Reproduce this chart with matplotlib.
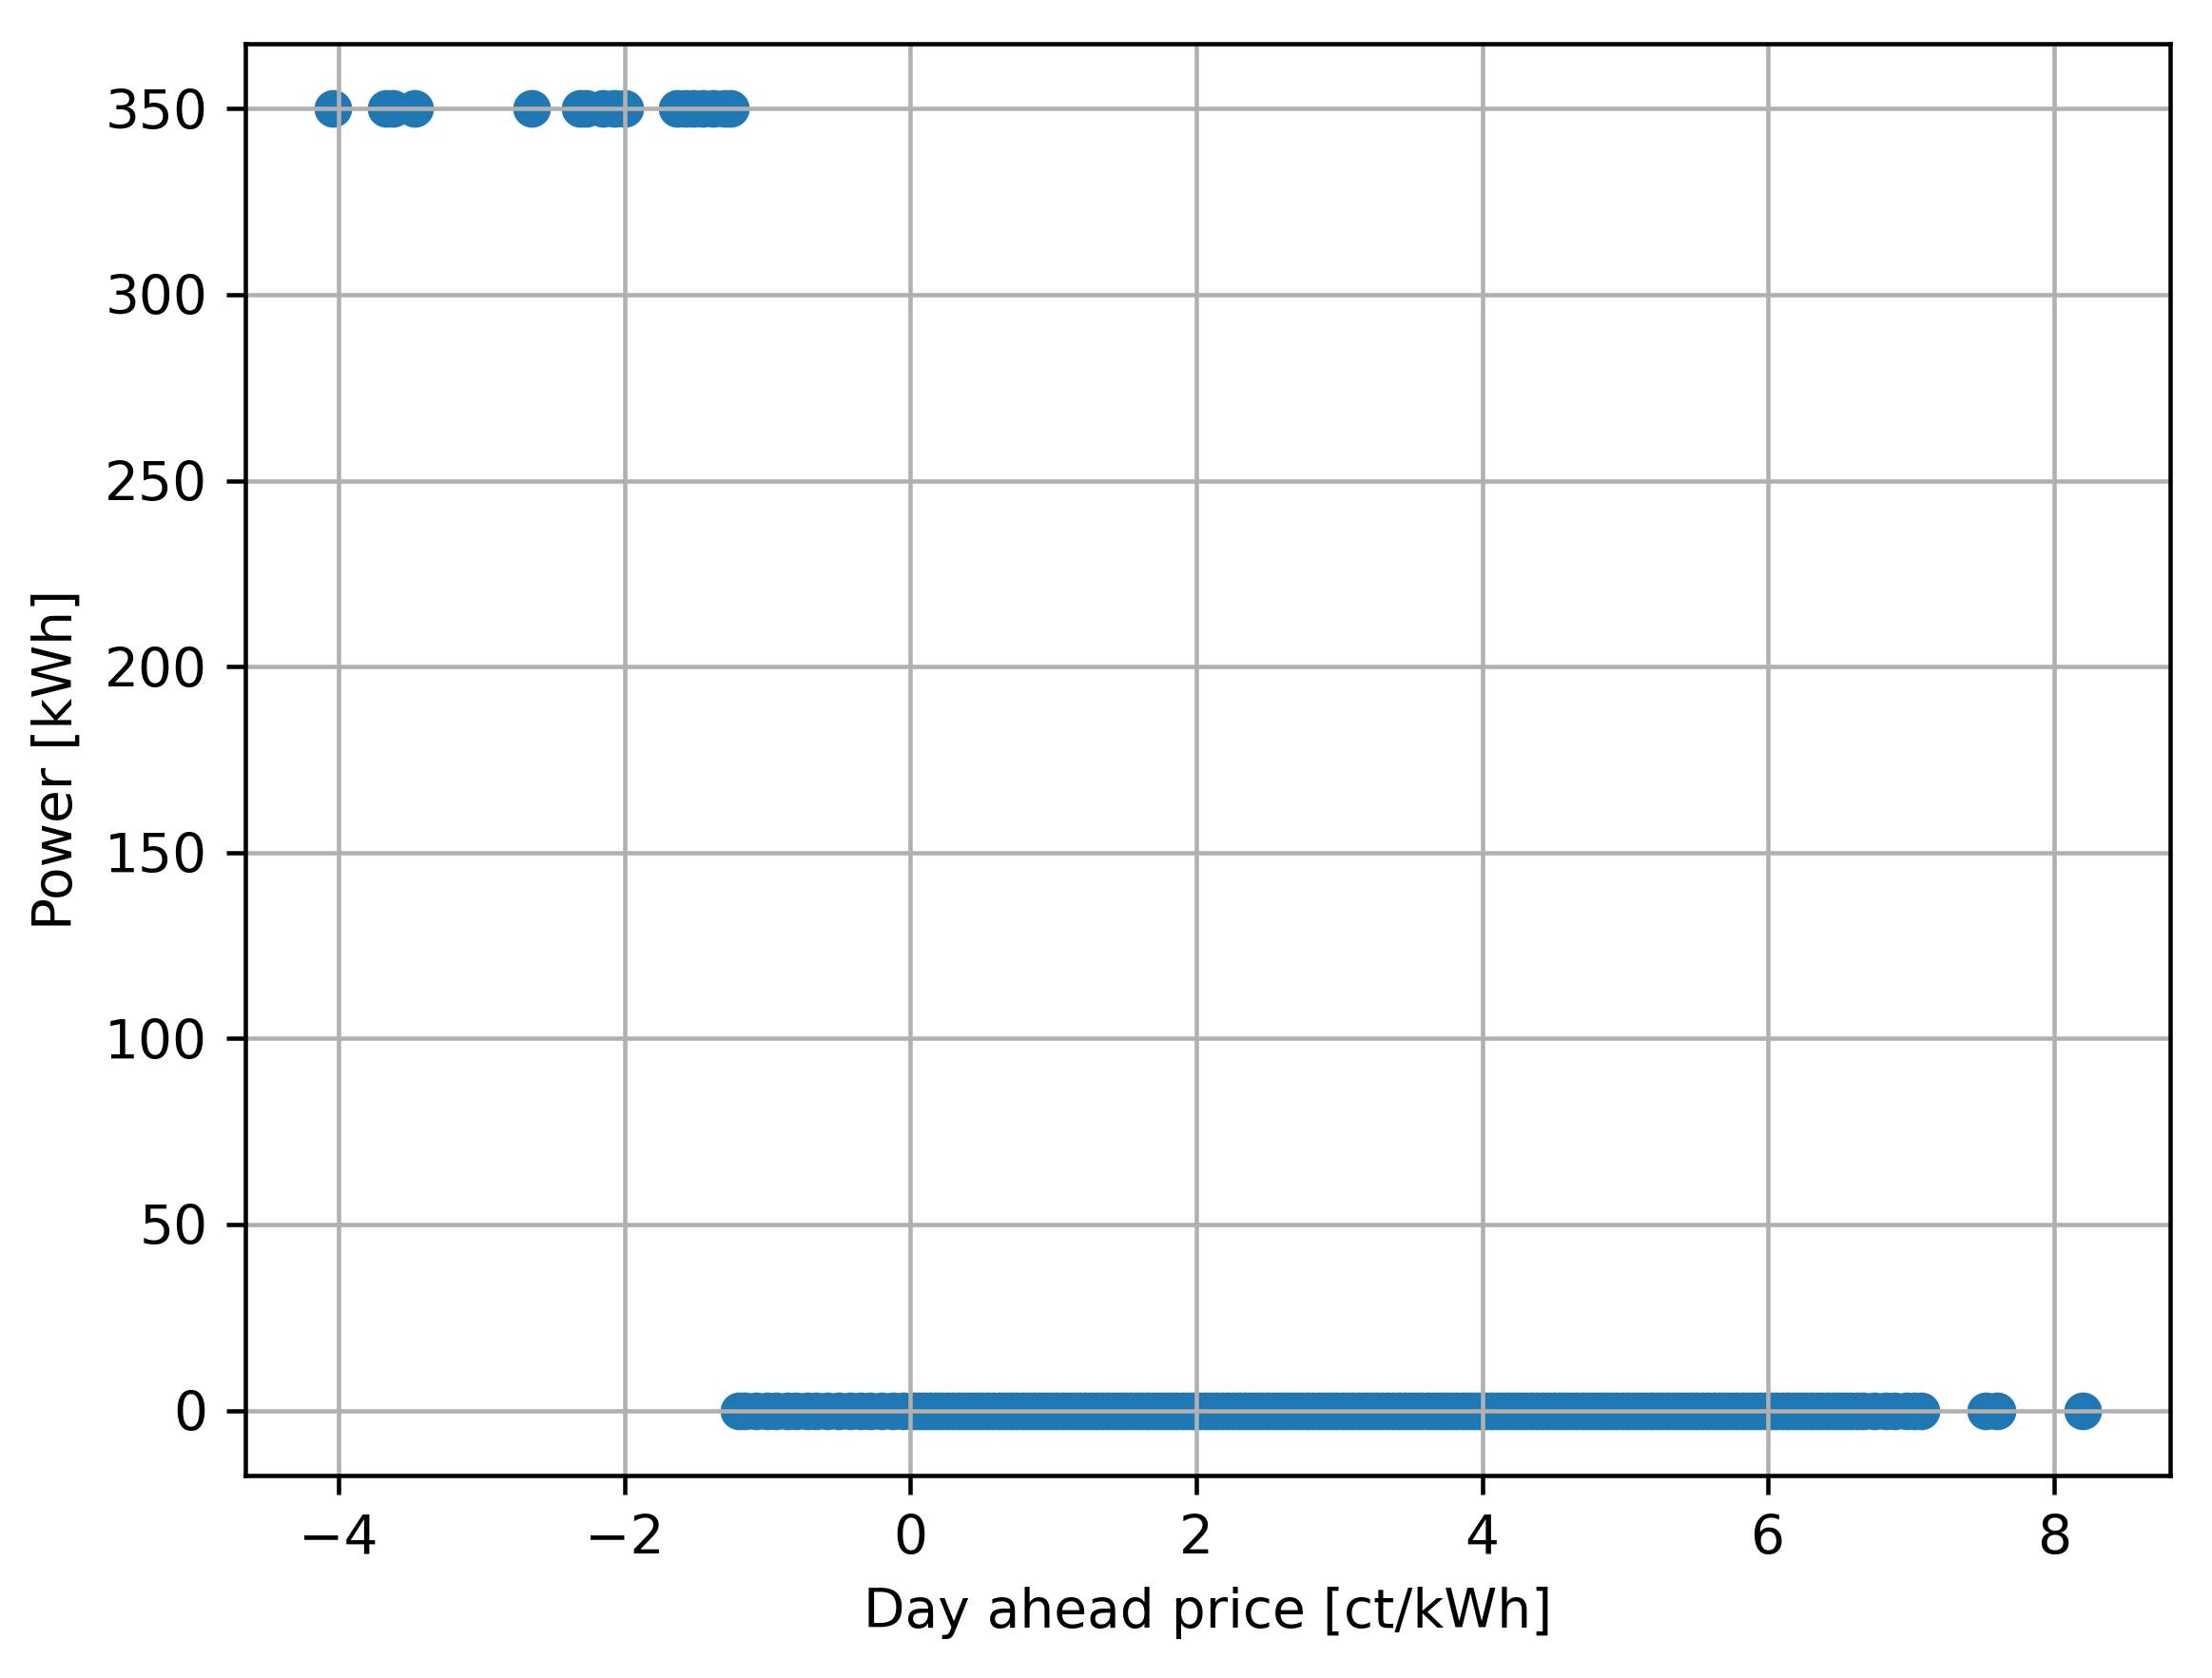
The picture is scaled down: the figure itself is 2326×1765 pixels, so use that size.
import matplotlib
matplotlib.use("Agg")
import matplotlib.pyplot as plt

# charging power at the top level (negative prices)
price_high = [-4.04, -3.67, -3.62, -3.47, -2.65, -2.31, -2.27, -2.15, -2.07, -2.0,
              -1.63, -1.57, -1.52, -1.45, -1.38, -1.3, -1.26]
power_high = [350] * len(price_high)

# no charging
price_low = [-1.2, -1.16, -1.08, -1.0, -0.94, -0.86, -0.8, -0.72, -0.66, -0.58,
             -0.5, -0.42, -0.35, -0.28, -0.2, -0.12, -0.05, 0.02, 0.1, 0.18,
             0.26, 0.34, 0.42, 0.5, 0.58, 0.66, 0.74, 0.82, 0.9, 0.98,
             1.06, 1.14, 1.22, 1.3, 1.38, 1.46, 1.54, 1.62, 1.7, 1.78,
             1.86, 1.94, 2.02, 2.1, 2.18, 2.26, 2.34, 2.42, 2.5, 2.58,
             2.66, 2.74, 2.82, 2.9, 2.98, 3.06, 3.14, 3.22, 3.3, 3.38,
             3.46, 3.54, 3.62, 3.7, 3.78, 3.86, 3.94, 4.02, 4.1, 4.18,
             4.26, 4.34, 4.42, 4.5, 4.58, 4.66, 4.74, 4.82, 4.9, 4.98,
             5.06, 5.14, 5.22, 5.3, 5.38, 5.46, 5.54, 5.62, 5.7, 5.78,
             5.86, 5.94, 6.02, 6.1, 6.18, 6.26, 6.34, 6.42, 6.5, 6.58,
             6.66, 6.74, 6.82, 6.88, 6.97, 7.02, 7.07, 7.52, 7.6, 8.2,
             # the dense middle of the price range
             0.06, 0.14, 0.22, 0.30, 0.38, 0.46, 0.54, 0.62, 0.70, 0.78,
             0.86, 0.94, 1.02, 1.10, 1.18, 1.26, 1.34, 1.42, 1.50, 1.58,
             1.66, 1.74, 1.82, 1.90, 1.98, 2.06, 2.14, 2.22, 2.30, 2.38,
             2.46, 2.54, 2.62, 2.70, 2.78, 2.86, 2.94, 3.02, 3.10, 3.18,
             3.26, 3.34, 3.42, 3.50, 3.58, 3.66, 3.74, 3.82, 3.90, 3.98,
             4.06, 4.14, 4.22, 4.30, 4.38, 4.46, 4.54, 4.62, 4.70, 4.78,
             4.86, 4.94, 5.02, 5.10, 5.18, 5.26, 5.34, 5.42, 5.50, 5.58,
             5.66, 5.74, 5.82, 5.90, 5.98, 6.06, 6.14, 6.22, 6.30, 6.38,
             6.46, 6.54, 6.62]
power_low = [0] * len(price_low)

dpi = 408
fig = plt.figure(figsize=(2326 / dpi, 1765 / dpi), dpi=dpi)
ax = fig.add_axes([0.1109, 0.1207, 0.8702, 0.8533])

ax.scatter(price_high + price_low, power_high + power_low)
ax.set_xlabel("Day ahead price [ct/kWh]")
ax.set_ylabel("Power [kWh]")
ax.grid(True)

fig.savefig("out.png", dpi=dpi)
